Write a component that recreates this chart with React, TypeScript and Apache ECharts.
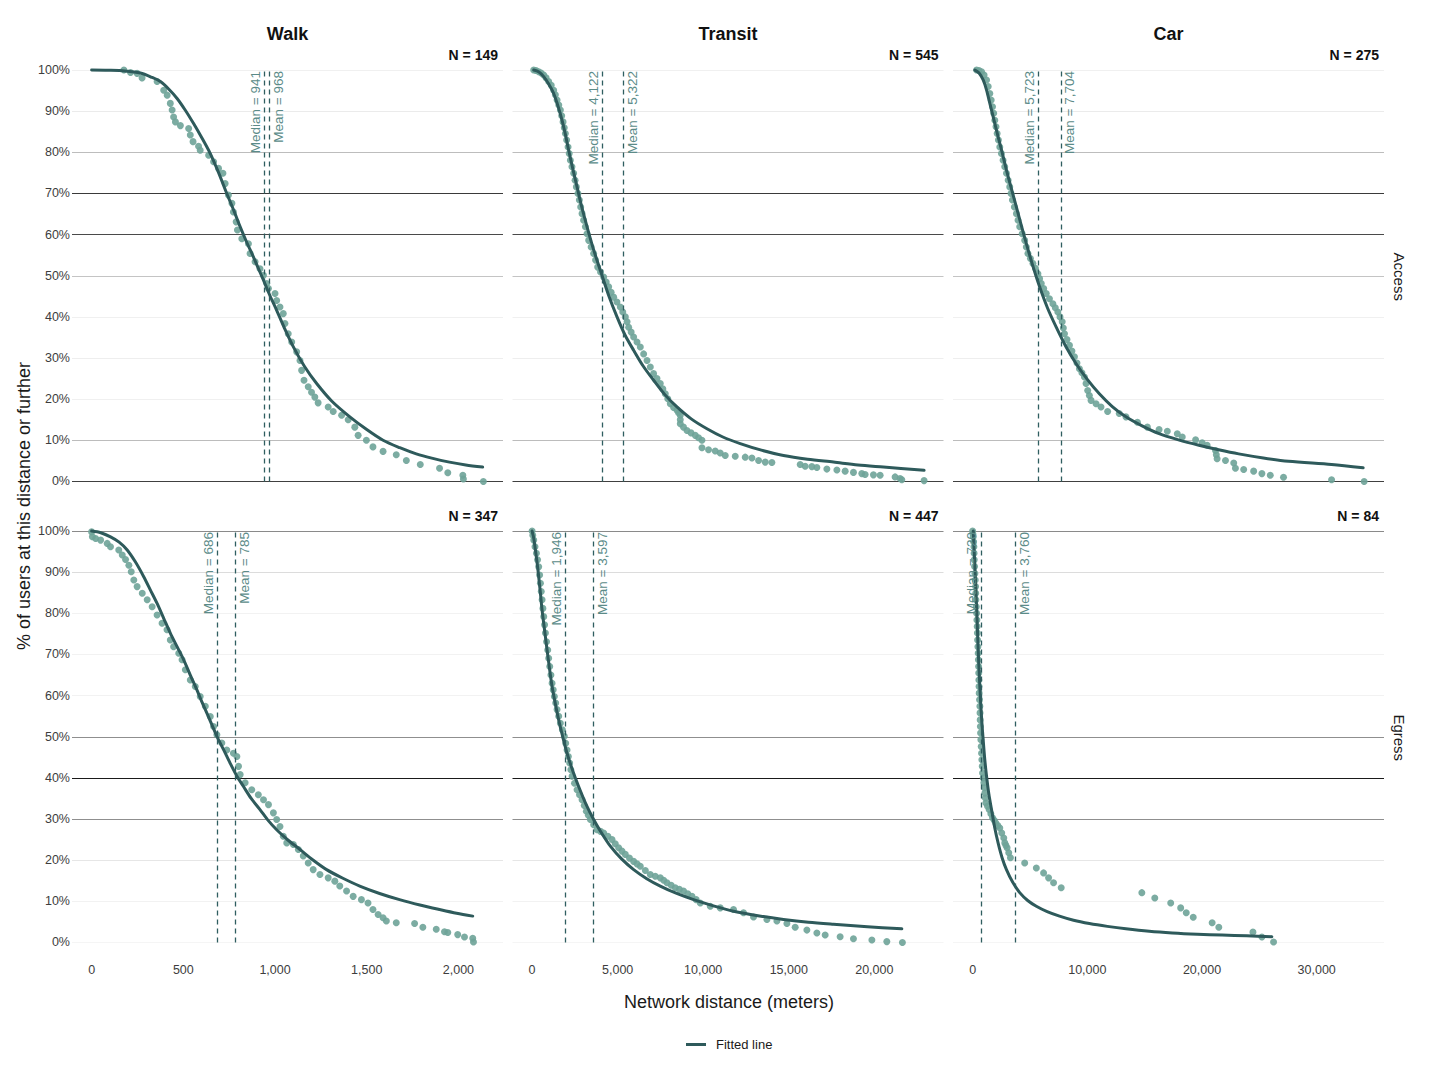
import React, { useEffect, useRef } from 'react';
import * as echarts from 'echarts';

// ---------- facets ----------
const MODES = ['Walk', 'Transit', 'Car'];
const DIRECTIONS = ['Access', 'Egress'];
const SAMPLE_SIZES = [
  [149, 545, 275],
  [347, 447, 84],
];
const MEDIANS = [
  [941, 4122, 5723],
  [686, 1946, 720],
];
const MEANS = [
  [968, 5322, 7704],
  [785, 3597, 3760],
];

// ---------- axes ----------
const X_LIMITS = [
  [-107, 2243],
  [-1145, 24045],
  [-1710, 35870],
];
const X_STEPS = [500, 5000, 10000];
const X_TICKS = [
  [0, 500, 1000, 1500, 2000],
  [0, 5000, 10000, 15000, 20000],
  [0, 10000, 20000, 30000],
];
const Y_TICKS = [0, 10, 20, 30, 40, 50, 60, 70, 80, 90, 100];

// ---------- observed share of users at or beyond each distance: [meters, %] ----------
const WALK_ACCESS_OBS = [
  [176, 100], [212, 99.4], [248, 99.2], [275, 98.1], [357, 97.2], [393, 95.1], [412, 93.9],
  [429, 91.9], [439, 90.3], [447, 88.6], [457, 87.4], [484, 86.5], [529, 85.8], [538, 84.2],
  [553, 82.6], [583, 81.5], [592, 80.5], [638, 79.3], [665, 77.7], [692, 76.1], [716, 74.9],
  [728, 72.4], [746, 69.6], [765, 67.6], [773, 65.5], [788, 63.1], [795, 61.1], [819, 59.0],
  [855, 57.8], [864, 55.4], [891, 53.4], [918, 51.7], [937, 50.1], [955, 48.1], [964, 46.9],
  [1000, 45.7], [1009, 44.0], [1027, 42.4], [1045, 40.8], [1054, 38.4], [1072, 35.9],
  [1091, 33.9], [1118, 31.5], [1136, 29.4], [1145, 27.0], [1158, 24.6], [1181, 23.0],
  [1199, 21.7], [1217, 20.5], [1235, 19.1], [1290, 18.1], [1317, 17.0], [1363, 16.1],
  [1399, 15.0], [1435, 13.2], [1453, 11.2], [1498, 10.0], [1534, 8.4], [1589, 7.3],
  [1661, 6.5], [1716, 5.1], [1792, 4.1], [1897, 3.2], [1942, 2.1], [2024, 1.5], [2027, 0.6],
  [2136, 0.0],
];
const TRANSIT_ACCESS_OBS = [
  [94, 100], [230, 99.9], [386, 99.6], [530, 99.3], [678, 98.8], [820, 98.1], [970, 97.2],
  [1120, 96.3], [1262, 95.1], [1360, 94.0], [1460, 92.7], [1560, 91.5], [1653, 90.3],
  [1730, 88.9], [1810, 87.4], [1880, 86.0], [1945, 84.6], [2020, 83.0], [2102, 81.3],
  [2170, 79.7], [2237, 78.1], [2330, 76.5], [2430, 74.9], [2510, 73.2], [2587, 71.6],
  [2680, 70.0], [2762, 68.4], [2840, 66.7], [2920, 65.1], [3010, 63.5], [3113, 61.9],
  [3210, 60.2], [3306, 58.6], [3450, 57.0], [3598, 55.4], [3710, 53.8], [3832, 52.1],
  [4000, 50.9], [4183, 49.7], [4330, 48.5], [4475, 47.3], [4620, 46.0], [4767, 44.8],
  [4960, 43.6], [5157, 42.4], [5300, 41.2], [5449, 40.0], [5550, 38.8], [5644, 37.5],
  [5790, 36.3], [5936, 35.1], [6130, 33.9], [6325, 32.7], [6520, 31.0], [6717, 29.4],
  [6910, 27.8], [7101, 26.2], [7300, 25.0], [7493, 23.8], [7640, 22.5], [7785, 21.3],
  [7930, 20.1], [8077, 18.9], [8270, 18.0], [8468, 17.3], [8560, 16.7], [8661, 16.1],
  [8661, 15.0], [8661, 14.0], [8850, 13.2], [9052, 12.4], [9290, 11.8], [9537, 11.2],
  [9730, 10.6], [9928, 10.0], [9928, 8.2], [10313, 7.7], [10705, 7.4], [10997, 6.9],
  [11289, 6.3], [11873, 6.1], [12457, 5.9], [12848, 5.7], [13237, 5.1], [13627, 4.7],
  [14016, 4.6], [15669, 4.1], [15961, 3.7], [16352, 3.6], [16644, 3.4], [17228, 3.0],
  [17812, 2.8], [18297, 2.5], [18783, 2.2], [19270, 1.9], [19465, 1.7], [19951, 1.6],
  [20341, 1.5], [21216, 1.1], [21508, 0.7], [21608, 0.4], [22910, 0.2],
];
const CAR_ACCESS_OBS = [
  [347, 100], [560, 99.9], [781, 99.6], [1000, 98.8], [1215, 97.6], [1360, 96.0], [1502, 94.3],
  [1620, 92.7], [1736, 91.1], [1840, 89.5], [1936, 87.8], [2040, 86.2], [2138, 84.6],
  [2250, 83.0], [2370, 81.3], [2510, 79.7], [2656, 78.1], [2800, 76.5], [2951, 74.9],
  [3100, 73.2], [3238, 71.6], [3350, 70.0], [3472, 68.4], [3640, 66.7], [3819, 65.1],
  [3960, 63.5], [4106, 61.9], [4320, 60.2], [4540, 58.6], [4680, 57.0], [4826, 55.4],
  [5040, 54.2], [5260, 53.0], [5480, 51.8], [5694, 50.5], [5840, 49.3], [5989, 48.1],
  [6200, 46.9], [6423, 45.7], [6700, 44.4], [6999, 43.2], [7210, 42.2], [7430, 41.2],
  [7620, 40.0], [7812, 38.8], [7910, 37.3], [8012, 35.9], [8230, 34.5], [8446, 33.1],
  [8660, 31.7], [8880, 30.3], [9100, 28.8], [9314, 27.4], [9530, 26.4], [9748, 25.4],
  [9890, 23.8], [10034, 22.1], [10180, 20.9], [10329, 19.7], [10763, 18.9], [11197, 18.1],
  [11771, 17.0], [12786, 16.5], [13367, 15.7], [14374, 14.4], [15242, 13.2], [16258, 12.6],
  [16978, 12.2], [17846, 11.6], [18280, 10.8], [19444, 10.1], [20016, 9.4], [20450, 8.8],
  [21180, 7.5], [21250, 6.5], [21319, 5.5], [22048, 5.1], [22768, 4.5], [22916, 3.2],
  [23636, 2.9], [24504, 2.5], [25224, 1.9], [25953, 1.5], [27108, 1.0], [31300, 0.4],
  [34139, 0.0],
];
const WALK_EGRESS_OBS = [
  [0, 99.8], [4, 98.6], [22, 98.2], [49, 97.8], [85, 97.0], [103, 96.2], [148, 95.4],
  [167, 94.2], [185, 93.1], [203, 91.7], [216, 90.1], [230, 88.1], [248, 86.5], [276, 84.9],
  [303, 83.3], [330, 81.6], [357, 79.6], [384, 77.6], [411, 76.0], [429, 73.5], [447, 71.9],
  [475, 70.3], [493, 68.7], [511, 66.3], [538, 63.8], [565, 62.2], [592, 59.8], [620, 57.4],
  [647, 54.9], [665, 52.5], [683, 50.5], [710, 48.5], [737, 46.8], [773, 46.0], [792, 45.2],
  [801, 42.8], [810, 40.8], [837, 38.8], [873, 37.1], [909, 35.9], [937, 34.7], [964, 33.5],
  [991, 31.5], [1009, 29.9], [1027, 28.2], [1045, 25.8], [1064, 24.2], [1100, 23.8],
  [1127, 22.6], [1154, 21.0], [1181, 19.3], [1208, 17.7], [1245, 16.5], [1290, 15.7],
  [1326, 14.9], [1353, 13.7], [1390, 12.5], [1426, 11.2], [1471, 10.4], [1507, 9.6],
  [1534, 8.0], [1562, 6.8], [1589, 6.0], [1607, 5.2], [1661, 4.8], [1761, 4.6], [1806, 3.7],
  [1879, 3.2], [1924, 2.6], [1942, 2.4], [1996, 1.9], [2033, 1.3], [2078, 1.0], [2082, 0.1],
];
const TRANSIT_EGRESS_OBS = [
  [0, 100], [40, 99.0], [97, 97.8], [170, 96.2], [253, 94.6], [320, 93.0], [386, 91.3],
  [440, 89.3], [487, 87.3], [535, 85.3], [584, 83.3], [632, 81.2], [681, 79.2], [730, 77.2],
  [779, 75.2], [845, 73.1], [914, 71.1], [970, 69.1], [1031, 67.1], [1100, 65.0], [1168, 63.0],
  [1235, 61.4], [1302, 59.8], [1380, 58.2], [1460, 56.6], [1555, 55.0], [1653, 53.3],
  [1770, 51.7], [1886, 50.1], [1965, 48.4], [2044, 46.8], [2120, 45.2], [2196, 43.6],
  [2265, 42.0], [2336, 40.4], [2480, 38.7], [2628, 37.1], [2770, 35.9], [2920, 34.7],
  [3050, 33.3], [3171, 31.9], [3290, 30.9], [3405, 29.9], [3600, 28.6], [3796, 27.4],
  [4000, 27.0], [4183, 26.6], [4430, 25.8], [4672, 25.0], [4860, 24.0], [5057, 23.0],
  [5250, 22.2], [5449, 21.4], [5690, 20.5], [5936, 19.7], [6130, 19.1], [6325, 18.5],
  [6620, 17.5], [6909, 16.5], [7200, 16.1], [7493, 15.7], [7690, 15.1], [7884, 14.5],
  [8130, 13.9], [8369, 13.3], [8610, 12.9], [8853, 12.5], [9100, 11.8], [9344, 11.2],
  [9590, 10.4], [9829, 9.6], [10413, 8.8], [10997, 8.4], [11773, 8.0], [12357, 7.2],
  [12941, 6.2], [13724, 5.6], [14308, 5.2], [14892, 4.6], [15377, 3.7], [16060, 3.0],
  [16644, 2.3], [17129, 1.8], [18005, 1.4], [18783, 0.9], [19858, 0.6], [20732, 0.2],
  [21643, 0.0],
];
const CAR_EGRESS_OBS = [
  [0, 100], [28, 99.3], [55, 98.6], [84, 97.4], [113, 96.2], [128, 94.6], [142, 93.0],
  [171, 91.4], [200, 89.7], [230, 88.1], [260, 86.5], [273, 84.9], [286, 83.3], [317, 81.6],
  [347, 80.0], [373, 78.4], [399, 76.8], [417, 75.2], [434, 73.5], [460, 71.9], [486, 70.3],
  [504, 68.7], [521, 67.1], [534, 65.5], [547, 63.8], [560, 62.2], [573, 60.6], [603, 59.0],
  [634, 57.4], [647, 55.8], [660, 54.1], [677, 52.5], [694, 50.9], [720, 49.3], [747, 47.6],
  [777, 46.0], [807, 44.4], [838, 42.8], [868, 41.2], [925, 40.0], [981, 38.8], [1025, 37.6],
  [1068, 36.3], [1111, 35.1], [1154, 33.9], [1300, 33.1], [1441, 32.3], [1590, 31.3],
  [1736, 30.3], [1880, 29.7], [2022, 29.0], [2200, 28.4], [2370, 27.8], [2540, 26.6],
  [2717, 25.4], [2804, 24.2], [2900, 23.6], [3004, 23.0], [3150, 21.8], [3298, 20.6],
  [4540, 19.3], [5555, 18.1], [6189, 16.9], [6623, 15.7], [7057, 14.5], [7725, 13.3],
  [14756, 12.1], [15884, 10.8], [17273, 9.6], [18141, 8.4], [18628, 7.2], [19236, 6.1],
  [20885, 4.8], [21466, 3.7], [24443, 2.5], [25224, 1.3], [26240, 0.1],
];

// ---------- fitted curves: [meters, %] ----------
const WALK_ACCESS_FIT = [
  [0, 100], [90, 99.95], [180, 99.8], [266, 99.3], [330, 98.2], [375, 97.2], [420, 95.4],
  [466, 93.1], [510, 90.3], [556, 87.0], [600, 83.6], [647, 79.7], [690, 75.3], [737, 70.0],
  [775, 65.9], [810, 61.9], [845, 58.2], [882, 54.6], [910, 51.7], [937, 48.9], [972, 45.2],
  [1009, 41.6], [1050, 37.4], [1100, 32.7], [1160, 28.0], [1227, 23.8], [1310, 19.5],
  [1408, 15.7], [1500, 12.6], [1589, 10.0], [1680, 8.2], [1770, 6.7], [1860, 5.6],
  [1951, 4.7], [2040, 4.0], [2132, 3.5],
];
const TRANSIT_ACCESS_FIT = [
  [94, 100], [380, 99.6], [678, 98.4], [970, 96.6], [1262, 94.3], [1510, 91.3], [1752, 87.8],
  [1950, 84.3], [2137, 80.5], [2380, 76.0], [2628, 71.6], [2910, 66.6], [3212, 61.9],
  [3590, 56.4], [3989, 51.3], [4460, 45.4], [4964, 40.0], [5430, 35.6], [5933, 31.9],
  [6500, 28.0], [7101, 24.6], [7760, 21.1], [8468, 18.1], [9300, 15.2], [10220, 12.8],
  [11150, 10.8], [12165, 9.2], [13400, 7.6], [14693, 6.3], [16100, 5.4], [17614, 4.7],
  [19050, 4.0], [20533, 3.5], [22910, 2.7],
];
const CAR_ACCESS_FIT = [
  [200, 100], [560, 99.3], [920, 97.6], [1210, 95.2], [1502, 91.9], [1860, 87.9], [2222, 83.8],
  [2590, 79.8], [2951, 75.7], [3380, 71.2], [3819, 66.7], [4250, 62.2], [4687, 57.8],
  [5250, 52.4], [5842, 47.3], [6540, 42.1], [7291, 37.5], [8130, 32.8], [9027, 28.6],
  [10000, 24.8], [11050, 21.3], [12180, 18.2], [13367, 15.7], [14780, 13.5], [16258, 11.6],
  [17950, 10.1], [19730, 8.8], [21450, 7.7], [23202, 6.7], [25350, 5.7], [27542, 4.9],
  [31300, 4.1], [34052, 3.3],
];
const WALK_EGRESS_FIT = [
  [0, 100], [50, 99.6], [103, 98.6], [150, 97.3], [194, 95.4], [240, 92.4], [284, 88.9],
  [320, 85.7], [357, 82.4], [393, 78.8], [429, 75.2], [466, 71.9], [502, 68.7], [538, 65.0],
  [574, 61.4], [600, 58.6], [629, 55.7], [656, 52.9], [683, 50.1], [720, 46.8], [755, 43.6],
  [790, 40.6], [828, 37.9], [870, 35.0], [918, 32.3], [960, 29.8], [1009, 27.4], [1070, 24.9],
  [1136, 22.6], [1205, 20.1], [1281, 17.7], [1370, 15.6], [1462, 13.7], [1570, 11.9],
  [1679, 10.4], [1790, 9.1], [1897, 8.0], [1990, 7.1], [2078, 6.4],
];
const TRANSIT_EGRESS_FIT = [
  [0, 100], [95, 98.3], [193, 95.4], [290, 92.4], [386, 88.9], [484, 85.0], [584, 80.8],
  [730, 75.9], [876, 71.1], [1020, 66.5], [1168, 62.2], [1360, 58.0], [1553, 54.1],
  [1790, 50.0], [2044, 46.0], [2370, 41.8], [2721, 37.9], [3140, 33.7], [3598, 29.9],
  [4060, 26.6], [4573, 23.4], [5230, 20.3], [5936, 17.7], [6700, 15.5], [7493, 13.7],
  [8450, 11.9], [9437, 10.4], [10600, 8.9], [11773, 7.6], [13200, 6.5], [14693, 5.6],
  [16150, 4.9], [17614, 4.4], [19600, 3.8], [21608, 3.3],
];
const CAR_EGRESS_FIT = [
  [55, 100], [120, 96.0], [190, 91.8], [286, 85.7], [390, 78.5], [486, 71.1], [590, 64.6],
  [694, 58.6], [805, 53.6], [920, 49.3], [1060, 44.5], [1215, 40.4], [1420, 36.0],
  [1649, 32.3], [1920, 28.0], [2222, 24.2], [2570, 20.6], [2951, 17.7], [3500, 14.6],
  [4106, 12.1], [4800, 10.2], [5555, 8.8], [6500, 7.5], [7578, 6.4], [8800, 5.4],
  [10182, 4.6], [11750, 3.9], [13367, 3.3], [15400, 2.7], [17412, 2.3], [19600, 2.0],
  [21752, 1.8], [23900, 1.6], [26092, 1.4],
];

const OBSERVED = [
  [WALK_ACCESS_OBS, TRANSIT_ACCESS_OBS, CAR_ACCESS_OBS],
  [WALK_EGRESS_OBS, TRANSIT_EGRESS_OBS, CAR_EGRESS_OBS],
];
const FITTED = [
  [WALK_ACCESS_FIT, TRANSIT_ACCESS_FIT, CAR_ACCESS_FIT],
  [WALK_EGRESS_FIT, TRANSIT_EGRESS_FIT, CAR_EGRESS_FIT],
];

// ---------- styling ----------
const FONT = '"Liberation Sans", Arial, Helvetica, sans-serif';
const INK = '#1a1a1a';
const TICK_INK = '#3d3d3d';
const FIT_COLOR = '#2e5a5b';
const POINT_COLOR = '#6ea398';
const REF_LINE_COLOR = '#2f5e60';
const REF_TEXT_COLOR = '#5b8b88';

// tone of each horizontal guide (0% .. 100%) per row
const GUIDE_TONES = [
  ['#404040', '#bcbcbc', '#f0f0f0', '#eeeeee', '#f0f0f0', '#c4c4c4', '#4a4a4a', '#3a3a3a', '#bdbdbd', '#ebebeb', '#f0f0f0'],
  ['#f5f5f5', '#f2f2f2', '#e6e6e6', '#8f8f8f', '#1a1a1a', '#8f8f8f', '#f2f2f2', '#f2f2f2', '#f2f2f2', '#dcdcdc', '#8a8a8a'],
];

const PANEL_LEFT = [72, 512.5, 953];
const PANEL_TOP = [49.5, 510.5];
const PANEL_W = 431;
const PANEL_H = 452.5;

const fmt = (v: number) => Math.round(v).toLocaleString('en-US');

function buildOption() {
  const grid: any[] = [];
  const xAxis: any[] = [];
  const yAxis: any[] = [];
  const series: any[] = [];
  const graphic: any[] = [];

  DIRECTIONS.forEach((dir, r) => {
    MODES.forEach((mode, c) => {
      const i = r * 3 + c;
      grid.push({
        left: PANEL_LEFT[c],
        top: PANEL_TOP[r],
        width: PANEL_W,
        height: PANEL_H,
        containLabel: false,
        outerBoundsMode: 'none',
      });
      const step = X_STEPS[c];
      xAxis.push({
        type: 'value',
        gridIndex: i,
        min: X_LIMITS[c][0],
        max: X_LIMITS[c][1],
        minInterval: step,
        maxInterval: step,
        axisLine: { show: false },
        axisTick: { show: false },
        splitLine: { show: false },
        axisLabel: {
          show: r === 1,
          customValues: X_TICKS[c],
          margin: 0,
          fontSize: 12.5,
          fontFamily: FONT,
          color: TICK_INK,
          formatter: (v: number) => (Math.abs(v % step) < 1e-6 && v >= 0 ? fmt(v) : ''),
        },
      });
      yAxis.push({
        type: 'value',
        gridIndex: i,
        min: -5,
        max: 105,
        minInterval: 10,
        maxInterval: 10,
        axisLine: { show: false },
        axisTick: { show: false },
        splitLine: { show: false },
        axisLabel: {
          show: c === 0,
          customValues: Y_TICKS,
          margin: 2,
          fontSize: 12.5,
          fontFamily: FONT,
          color: TICK_INK,
          formatter: (v: number) => (Math.abs(v % 10) < 1e-6 && v >= 0 && v <= 100 ? `${v}%` : ''),
        },
      });

      series.push({
        type: 'scatter',
        name: 'Observed',
        xAxisIndex: i,
        yAxisIndex: i,
        data: OBSERVED[r][c],
        symbol: 'circle',
        symbolSize: 7,
        itemStyle: { color: POINT_COLOR, opacity: 0.9 },
        silent: true,
        z: 3,
        markLine: {
          silent: true,
          symbol: ['none', 'none'],
          z: 1,
          label: { show: false },
          data: Y_TICKS.map((v, k) => ({
            yAxis: v,
            lineStyle: { color: GUIDE_TONES[r][k], width: 1, type: 'solid' },
          })),
        },
      });

      const refLabel = (text: string, position: string) => ({
        show: true,
        position,
        formatter: text,
        color: REF_TEXT_COLOR,
        fontSize: 13.5,
        fontFamily: FONT,
        distance: [1, 2],
      });

      series.push({
        type: 'line',
        name: 'Fitted line',
        xAxisIndex: i,
        yAxisIndex: i,
        data: FITTED[r][c],
        symbol: 'none',
        showSymbol: false,
        smooth: 0.3,
        lineStyle: { color: FIT_COLOR, width: 3, cap: 'round', join: 'round' },
        itemStyle: { color: FIT_COLOR },
        silent: true,
        z: 4,
        markLine: {
          silent: true,
          symbol: ['none', 'none'],
          z: 5,
          lineStyle: { color: REF_LINE_COLOR, width: 1.3, type: [5, 4] },
          data: [
            [
              { coord: [MEDIANS[r][c], 0], label: refLabel(`Median = ${fmt(MEDIANS[r][c])}`, 'insideEndTop') },
              { coord: [MEDIANS[r][c], 100] },
            ],
            [
              { coord: [MEANS[r][c], 0], label: refLabel(`Mean = ${fmt(MEANS[r][c])}`, 'insideEndBottom') },
              { coord: [MEANS[r][c], 100] },
            ],
          ],
        },
      });

      graphic.push({
        type: 'text',
        x: PANEL_LEFT[c] + PANEL_W - 5,
        y: PANEL_TOP[r] + 5.5,
        style: {
          text: `N = ${SAMPLE_SIZES[r][c]}`,
          font: `bold 14px ${FONT}`,
          fill: '#111111',
          textAlign: 'right',
          textVerticalAlign: 'middle',
        },
      });
    });

    graphic.push({
      type: 'text',
      x: 1399,
      y: PANEL_TOP[r] + PANEL_H / 2 + 1,
      rotation: -Math.PI / 2,
      style: {
        text: dir,
        font: `15px ${FONT}`,
        fill: INK,
        textAlign: 'center',
        textVerticalAlign: 'middle',
      },
    });
  });

  MODES.forEach((mode, c) => {
    graphic.push({
      type: 'text',
      x: PANEL_LEFT[c] + PANEL_W / 2,
      y: 34,
      style: {
        text: mode,
        font: `bold 18px ${FONT}`,
        fill: '#111111',
        textAlign: 'center',
        textVerticalAlign: 'middle',
      },
    });
  });

  graphic.push({
    type: 'text',
    x: 24,
    y: 506,
    rotation: Math.PI / 2,
    style: {
      text: '% of users at this distance or further',
      font: `18px ${FONT}`,
      fill: INK,
      textAlign: 'center',
      textVerticalAlign: 'middle',
    },
  });
  graphic.push({
    type: 'text',
    x: 729,
    y: 1002,
    style: {
      text: 'Network distance (meters)',
      font: `18px ${FONT}`,
      fill: INK,
      textAlign: 'center',
      textVerticalAlign: 'middle',
    },
  });

  return {
    animation: false,
    backgroundColor: '#ffffff',
    textStyle: { fontFamily: FONT },
    grid,
    xAxis,
    yAxis,
    series,
    graphic,
    legend: {
      show: true,
      data: [{ name: 'Fitted line', icon: 'rect' }],
      left: 681,
      top: 1033,
      itemWidth: 20,
      itemHeight: 3,
      selectedMode: false,
      textStyle: { fontSize: 13, color: INK, fontFamily: FONT, padding: [0, 0, 0, 5] },
    },
  };
}

export default function App() {
  const ref = useRef<HTMLDivElement>(null);

  useEffect(() => {
    if (!ref.current) return;
    const chart = echarts.init(ref.current, undefined, { renderer: 'svg' });
    chart.setOption(buildOption() as any);
    return () => chart.dispose();
  }, []);

  return (
    <div
      ref={ref}
      style={{ position: 'fixed', left: 0, top: 0, width: 1430, height: 1072, background: '#fff' }}
    />
  );
}
